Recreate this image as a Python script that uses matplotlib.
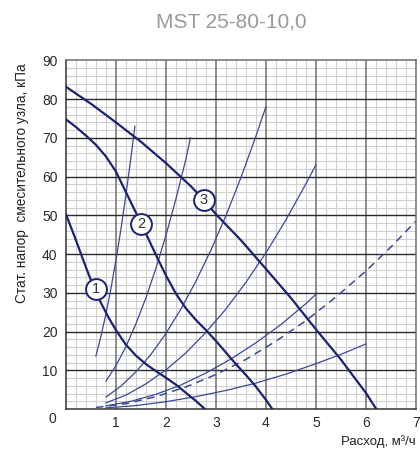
import numpy as np
import matplotlib
matplotlib.use("Agg")
import matplotlib.pyplot as plt

plt.rcParams['font.family'] = ['Liberation Sans', 'DejaVu Sans']

# pump curves 1..3 (flow m3/h, head kPa)
pump1_x = [0, 0.2, 0.4, 0.55, 0.7, 0.85, 1.0, 1.2, 1.4, 1.6, 1.8, 2.0, 2.2, 2.4, 2.6, 2.78]
pump1_y = [50.3, 43.6, 36.6, 31.6, 27.4, 23.7, 20.4, 16.6, 13.8, 11.6, 9.8, 8.1, 6.3, 4.2, 2.1, 0]
pump2_x = [0, 0.2, 0.4, 0.6, 0.8, 1.0, 1.2, 1.4, 1.6, 1.8, 2.0, 2.2, 2.4, 2.6, 2.8,
           3.0, 3.2, 3.4, 3.6, 3.8, 4.0, 4.13]
pump2_y = [74.8, 72.8, 70.6, 68.2, 65.2, 61.3, 56.0, 50.7, 45.3, 39.8, 34.5, 29.8, 26.0, 23.0, 20.4,
           17.6, 14.6, 11.6, 8.8, 5.8, 2.4, 0]
pump3_x = [0, 0.5, 1.0, 1.5, 2.0, 2.5, 2.76, 3.0, 3.5, 4.0, 4.5, 5.0, 5.5, 6.0, 6.21]
pump3_y = [83.2, 78.8, 74.0, 69.0, 63.5, 57.5, 54.0, 50.3, 43.6, 36.2, 28.7, 20.6, 12.8, 4.2, 0]
label_x = [0.6, 1.51, 2.76]
label_y = [31.1, 47.7, 54.0]
labels = ['1', '2', '3']

# system curves
sysA_x = [0.6, 0.7, 0.8, 0.9, 1.0, 1.1, 1.2, 1.3, 1.38]
sysA_y = [13.7, 18.8, 24.5, 31.1, 38.4, 46.4, 55.3, 64.9, 73]
sysB_x = [0.8, 1.0, 1.2, 1.4, 1.6, 1.8, 2.0, 2.2, 2.4, 2.49]
sysB_y = [7.2, 11.2, 16.1, 22.0, 28.7, 36.3, 44.8, 54.2, 64.5, 70]
sysC_x = [0.8, 1.1, 1.4, 1.7, 2.0, 2.3, 2.6, 2.9, 3.2, 3.5, 3.8, 4.0]
sysC_y = [3.1, 5.9, 9.6, 14.1, 19.5, 25.8, 33.0, 41.0, 49.9, 59.7, 70.4, 78]
sysD_x = [0.8, 1.2, 1.6, 2.0, 2.4, 2.8, 3.2, 3.6, 4.0, 4.4, 4.8, 5.0]
sysD_y = [1.6, 3.6, 6.5, 10.1, 14.5, 19.8, 25.8, 32.7, 40.3, 48.8, 58.1, 63]
sysE_x = [0.8, 1.3, 1.8, 2.3, 2.8, 3.3, 3.8, 4.3, 4.8, 5.0]
sysE_y = [0.8, 2.0, 3.8, 6.2, 9.3, 12.9, 17.1, 21.8, 27.2, 29.6]
sysF_x = [0.6, 1.2, 1.8, 2.4, 3.0, 3.6, 4.2, 4.8, 5.4, 6.0, 6.5, 7.0]
sysF_y = [0.4, 1.4, 3.2, 5.7, 8.9, 12.8, 17.5, 22.8, 28.9, 35.6, 41.8, 48.5]
sysG_x = [0.8, 1.4, 2.0, 2.6, 3.2, 3.8, 4.4, 5.0, 5.5, 6.0]
sysG_y = [0.3, 0.9, 1.9, 3.2, 4.8, 6.7, 9.0, 11.7, 14.1, 16.8]

navy = '#1b2270'
thin = '#3a4896'

fig = plt.figure(figsize=(4.2, 4.54), dpi=100)
ax = fig.add_axes([0.157, 0.099, 0.833, 0.768])

ax.set_xlim(0, 7)
ax.set_ylim(0, 90)
ax.set_xticks(np.arange(1, 8))
ax.set_yticks(np.arange(10, 91, 10))
ax.tick_params(which='both', length=0)
ax.tick_params(axis='y', pad=6, labelsize=10, labelcolor='#2a2a2a')
ax.tick_params(axis='x', pad=5, labelsize=10, labelcolor='#2a2a2a')

# grid
for v in np.arange(0.2, 7, 0.2):
    if abs(v - round(v)) > 1e-6:
        ax.axvline(v, color='#d0d0d0', lw=0.8, zorder=0)
for v in np.arange(2, 90, 2):
    if v % 10:
        ax.axhline(v, color='#d0d0d0', lw=0.8, zorder=0)
for v in range(1, 7):
    ax.axvline(v, color='#6e6e6e', lw=1.1, zorder=1)
for v in range(10, 90, 10):
    ax.axhline(v, color='#2a2a2a', lw=1.0, zorder=1)

for s in ax.spines.values():
    s.set_color('#6e6e6e')
    s.set_linewidth(1.1)
ax.spines['left'].set_color('#333333')
ax.spines['bottom'].set_color('#333333')

for xs, ys in [(sysA_x, sysA_y), (sysB_x, sysB_y), (sysC_x, sysC_y),
               (sysD_x, sysD_y), (sysE_x, sysE_y), (sysG_x, sysG_y)]:
    ax.plot(xs, ys, color=thin, lw=0.9, zorder=2)
ax.plot(sysF_x, sysF_y, color=thin, lw=1.1, dashes=(5, 3.5), zorder=2)

for xs, ys in [(pump1_x, pump1_y), (pump2_x, pump2_y), (pump3_x, pump3_y)]:
    ax.plot(xs, ys, color=navy, lw=1.6, zorder=3, solid_joinstyle='round')

for lx, ly, t in zip(label_x, label_y, labels):
    ax.plot(lx, ly, 'o', ms=15, mfc='white', mec=navy, mew=1.4, zorder=5)
    ax.text(lx, ly, t, ha='center', va='center', fontsize=10.5, color='#333333', zorder=6)

ax.annotate('0', xy=(0, 0), xytext=(-7, -7), textcoords='offset points',
            ha='right', va='center', fontsize=10, color='#2a2a2a', annotation_clip=False)

fig.text(0.55, 0.951, 'MST 25-80-10,0', ha='center', va='center', fontsize=15, color='#9a9a9a')
fig.text(0.052, 0.597, 'Стат. напор  смесительного узла, кПа', rotation=90,
         ha='center', va='center', fontsize=9.8, color='#222222')
fig.text(0.99, 0.028, 'Расход, м³/ч', ha='right', va='center', fontsize=9.5, color='#222222')

fig.savefig('out.png', dpi=100)
